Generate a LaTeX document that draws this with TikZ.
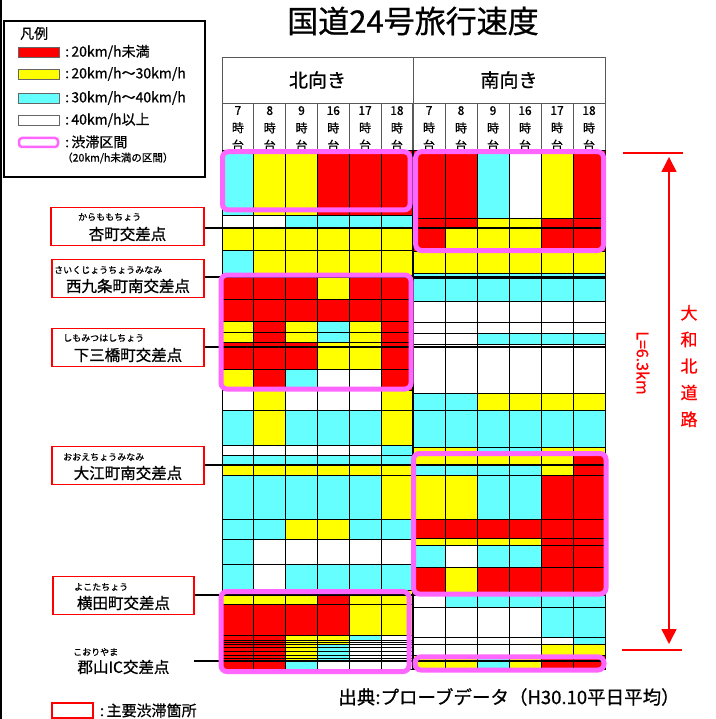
\documentclass[tikz,border=0pt]{standalone}
\usepackage{fontspec}
\setmainfont{Noto Sans CJK JP}[FakeBold=0.8]
\usetikzlibrary{arrows.meta,positioning}

\definecolor{cR}{RGB}{255,0,0}
\definecolor{cY}{RGB}{255,255,0}
\definecolor{cC}{RGB}{102,255,255}
\definecolor{cW}{RGB}{255,255,255}
\definecolor{cM}{RGB}{255,102,255}

\tikzset{
  cell/.style={draw=black,line width=0.9pt},
  jam/.style={draw=cM,line width=5pt,rounded corners=6pt},
  hdr/.style={draw=black!65,line width=0.8pt},
  spot/.style={draw=red,line width=1.6pt,fill=white,minimum height=38pt,inner sep=0pt},
  ruby/.style={font=\fontsize{9}{9}\selectfont,inner sep=0pt,anchor=west},
  place/.style={font=\fontsize{15.5}{16}\selectfont,inner sep=0pt},
  conn/.style={line width=2.4pt},
  hour/.style={font=\fontsize{12}{17.5}\selectfont,align=center,anchor=north,inner sep=0pt},
  legtxt/.style={font=\fontsize{14}{14}\selectfont,anchor=west,inner sep=0pt},
}

\begin{document}
\begin{tikzpicture}[x=1pt,y=-1pt]
	\useasboundingbox (0,0) rectangle (715,719);
	\draw[line width=2pt] (1,0) -- (1,719);

	%title
	\node[font=\fontsize{31}{31}\selectfont] (title) at (413,21) {国道24号旅行速度};

	%legend
	\draw[line width=1.5pt] (4,21) rectangle (205,177);
	\node[legtxt] (legH) at (20,33.5) {凡例};
	\foreach \col/\y/\txt in {R/52/{:\,20km/h未満}, Y/74/{:\,20km/h〜30km/h}, C/98/{:\,30km/h〜40km/h}, W/120/{:\,40km/h以上}} {
		\filldraw[fill=c\col,draw=black!60,line width=0.8pt] (18,\y-5) rectangle (59,\y+5);
		\node[legtxt] (leg\col) at (65,\y) {\txt};
	}
	\draw[cM,line width=2.5pt,rounded corners=3pt] (19,138) rectangle (58,147);
	\node[legtxt] (legM) at (65,142) {:\,渋滞区間};
	\node[legtxt,font=\fontsize{10.5}{11}\selectfont] (legM2) at (62,158) {（20km/h未満の区間）};

	%header
	\draw[hdr] (222,57) rectangle (605,150);
	\draw[hdr] (222,103) -- (605,103);
	\draw[hdr] (413,57) -- (413,150);
	\node[font=\fontsize{19}{19}\selectfont] (north) at (317.5,80) {北向き};
	\node[font=\fontsize{19}{19}\selectfont] (south) at (509,80) {南向き};
	\foreach \h [count=\i] in {7,8,9,16,17,18} {
		\draw[hdr] ({222+\i*31.8},103) -- ++(0,47);
		\draw[hdr] ({413+\i*32},103) -- ++(0,47);
		\node[hour] (n\i) at ({222+(\i-0.5)*31.8},106) {\h\\時\\台};
		\node[hour] (s\i) at ({413+(\i-0.5)*32},106) {\h\\時\\台};
	}

	%north cells
	\foreach \ya/\yb/\cols in {150/215/{C,Y,Y,R,R,R}, 215/228/{W,W,C,C,C,C},
		228/250/{Y,Y,Y,Y,Y,Y}, 250/275/{C,Y,Y,Y,Y,Y}, 275/299/{R,R,R,Y,R,R},
		299/321/{R,R,R,R,R,R}, 321/332/{Y,R,Y,C,Y,R}, 332/342/{Y,R,Y,C,Y,R},
		342/347/{R,R,R,Y,Y,R}, 347/369/{R,R,R,Y,Y,R}, 369/390/{Y,R,C,W,W,R},
		390/410/{W,Y,W,W,W,Y}, 410/445/{C,Y,C,C,C,Y}, 445/455/{W,W,W,W,W,C},
		455/465/{C,C,C,C,C,C}, 465/475/{Y,Y,Y,Y,Y,Y}, 475/519/{C,C,C,C,C,Y},
		519/539/{C,C,Y,Y,C,C}, 539/564/{C,W,W,W,W,W}, 564/590/{C,W,C,C,C,C},
		590/604/{Y,Y,Y,R,Y,Y}, 604/635/{R,R,R,R,Y,Y}, 635/640/{R,R,Y,Y,C,W},
		640/642/{R,R,Y,Y,W,W}, 642/644/{R,R,Y,Y,W,W}, 644/647/{R,R,Y,C,W,W},
		647/651/{R,R,Y,C,W,W}, 651/655/{R,R,Y,C,W,W}, 655/658/{R,R,Y,C,W,W},
		658/661/{R,R,Y,C,W,W}, 661/669/{R,R,C,W,W,W}} {
		\foreach \col [count=\i] in \cols
			\filldraw[cell,fill=c\col] ({222+(\i-1)*31.8},\ya) rectangle ++(31.8,\yb-\ya);
	}

	%south cells
	\foreach \ya/\yb/\cols in {150/218/{R,R,C,W,Y,R}, 218/228/{R,R,Y,Y,R,R},
		228/251/{R,Y,Y,Y,R,R}, 251/273/{Y,Y,Y,Y,Y,Y}, 273/278/{C,C,C,C,C,C},
		278/301/{C,C,C,C,C,C}, 301/322/{W,W,W,W,W,W}, 322/333/{W,W,W,W,W,W},
		333/344/{W,W,C,C,C,C}, 344/347/{W,W,W,W,W,W}, 347/393/{W,W,W,W,W,W},
		393/410/{C,C,Y,Y,Y,Y}, 410/447/{C,C,C,C,C,C}, 447/455/{Y,Y,C,C,Y,Y},
		455/465/{Y,Y,Y,Y,Y,R}, 465/475/{C,C,C,C,Y,R}, 475/519/{Y,Y,C,C,R,R},
		519/538/{R,R,R,R,R,R}, 538/545/{Y,Y,Y,Y,R,R}, 545/567/{C,W,C,C,R,R},
		567/595/{R,Y,R,R,R,R}, 595/607/{W,C,C,C,C,C}, 607/637/{W,W,W,W,C,C},
		637/644/{W,W,W,W,W,C}, 644/655/{W,W,W,W,Y,Y}, 655/669/{Y,Y,C,Y,R,R}} {
		\foreach \col [count=\i] in \cols
			\filldraw[cell,fill=c\col] ({413+(\i-1)*32},\ya) rectangle ++(32,\yb-\ya);
	}

	%intersections
	\node[spot,minimum width=153pt] (kara) at (127.5,226.5) {};
	\node[place] (karaN) at (127.5,234) {杏町交差点};
	\node[ruby] (karaR) at (78,217) {からももちょう};
	\node[spot,minimum width=152pt] (sai) at (128,278.5) {};
	\node[place] (saiN) at (128,286) {西九条町南交差点};
	\node[ruby] (saiR) at (54,270) {さいくじょうちょうみなみ};
	\node[spot,minimum width=152pt] (shimo) at (128,347.5) {};
	\node[place] (shimoN) at (128,355) {下三橋町交差点};
	\node[ruby] (shimoR) at (63,338) {しもみつはしちょう};
	\node[spot,minimum width=152pt] (ooe) at (128,465.5) {};
	\node[place] (ooeN) at (128,473) {大江町南交差点};
	\node[ruby] (ooeR) at (63,457) {おおえちょうみなみ};
	\node[spot,minimum width=141pt] (yoko) at (123.5,595.5) {};
	\node[place] (yokoN) at (123.5,603) {横田町交差点};
	\node[ruby] (yokoR) at (74,587) {よこたちょう};
	\node[place] (kori) at (123.5,667) {郡山IC交差点};
	\node[ruby] (koriR) at (73,652) {こおりやま};

	\coordinate (karaX) at (605,228);
	\coordinate (saiX) at (605,277);
	\coordinate (shimoX) at (605,347);
	\coordinate (ooeX) at (605,465);
	\coordinate (yokoX) at (605,595);
	\coordinate (koriX) at (605,661);
	\draw[conn] (karaX -| kara.east) -- (karaX);
	\draw[conn] (saiX -| sai.east) -- (saiX);
	\draw[conn] (shimoX -| shimo.east) -- (shimoX);
	\draw[conn] (ooeX -| ooe.east) -- (ooeX);
	\draw[conn] (yokoX -| yoko.east) -- (yokoX);
	\draw[conn] (194,661) -- (koriX);

	%jams
	\draw[jam] (222.5,151.7) rectangle (410,210);
	\draw[jam] (415.7,151.7) rectangle (603.5,250.5);
	\draw[jam] (221,275) rectangle (411,389);
	\draw[jam] (413.5,453.5) rectangle (606,594);
	\draw[jam] (221,591.5) rectangle (409,671.5);
	\draw[jam] (415,656.8) rectangle (604,670);

	%length
	\coordinate (lenT) at (669,157);
	\coordinate (lenB) at (669,644);
	\draw[red,line width=1.5pt] (623,153) -- (683,153);
	\draw[red,line width=1.5pt] (622,650) -- (682,650);
	\draw[red,line width=1.5pt,{Triangle[length=15pt,width=15pt]}-{Triangle[length=15pt,width=15pt]}] (lenT) -- (lenB);
	\node[red,rotate=-90,font=\fontsize{16}{16}\selectfont] (len) at (643,363) {L=6.3km};
	\node[red,align=center,font=\fontsize{17}{26.6}\selectfont] (road) at (689,366) {大\\和\\北\\道\\路};

	%footer
	\node[draw=red,line width=1.5pt,minimum width=41pt,minimum height=15pt,inner sep=0pt] (legS) at (72.5,710.5) {};
	\node[legtxt,font=\fontsize{15}{15}\selectfont,right=6pt of legS] (legST) {:\,主要渋滞箇所};
	\node[font=\fontsize{18.5}{19}\selectfont] (source) at (509,697) {出典:プローブデータ（H30.10平日平均）};
\end{tikzpicture}
\end{document}
